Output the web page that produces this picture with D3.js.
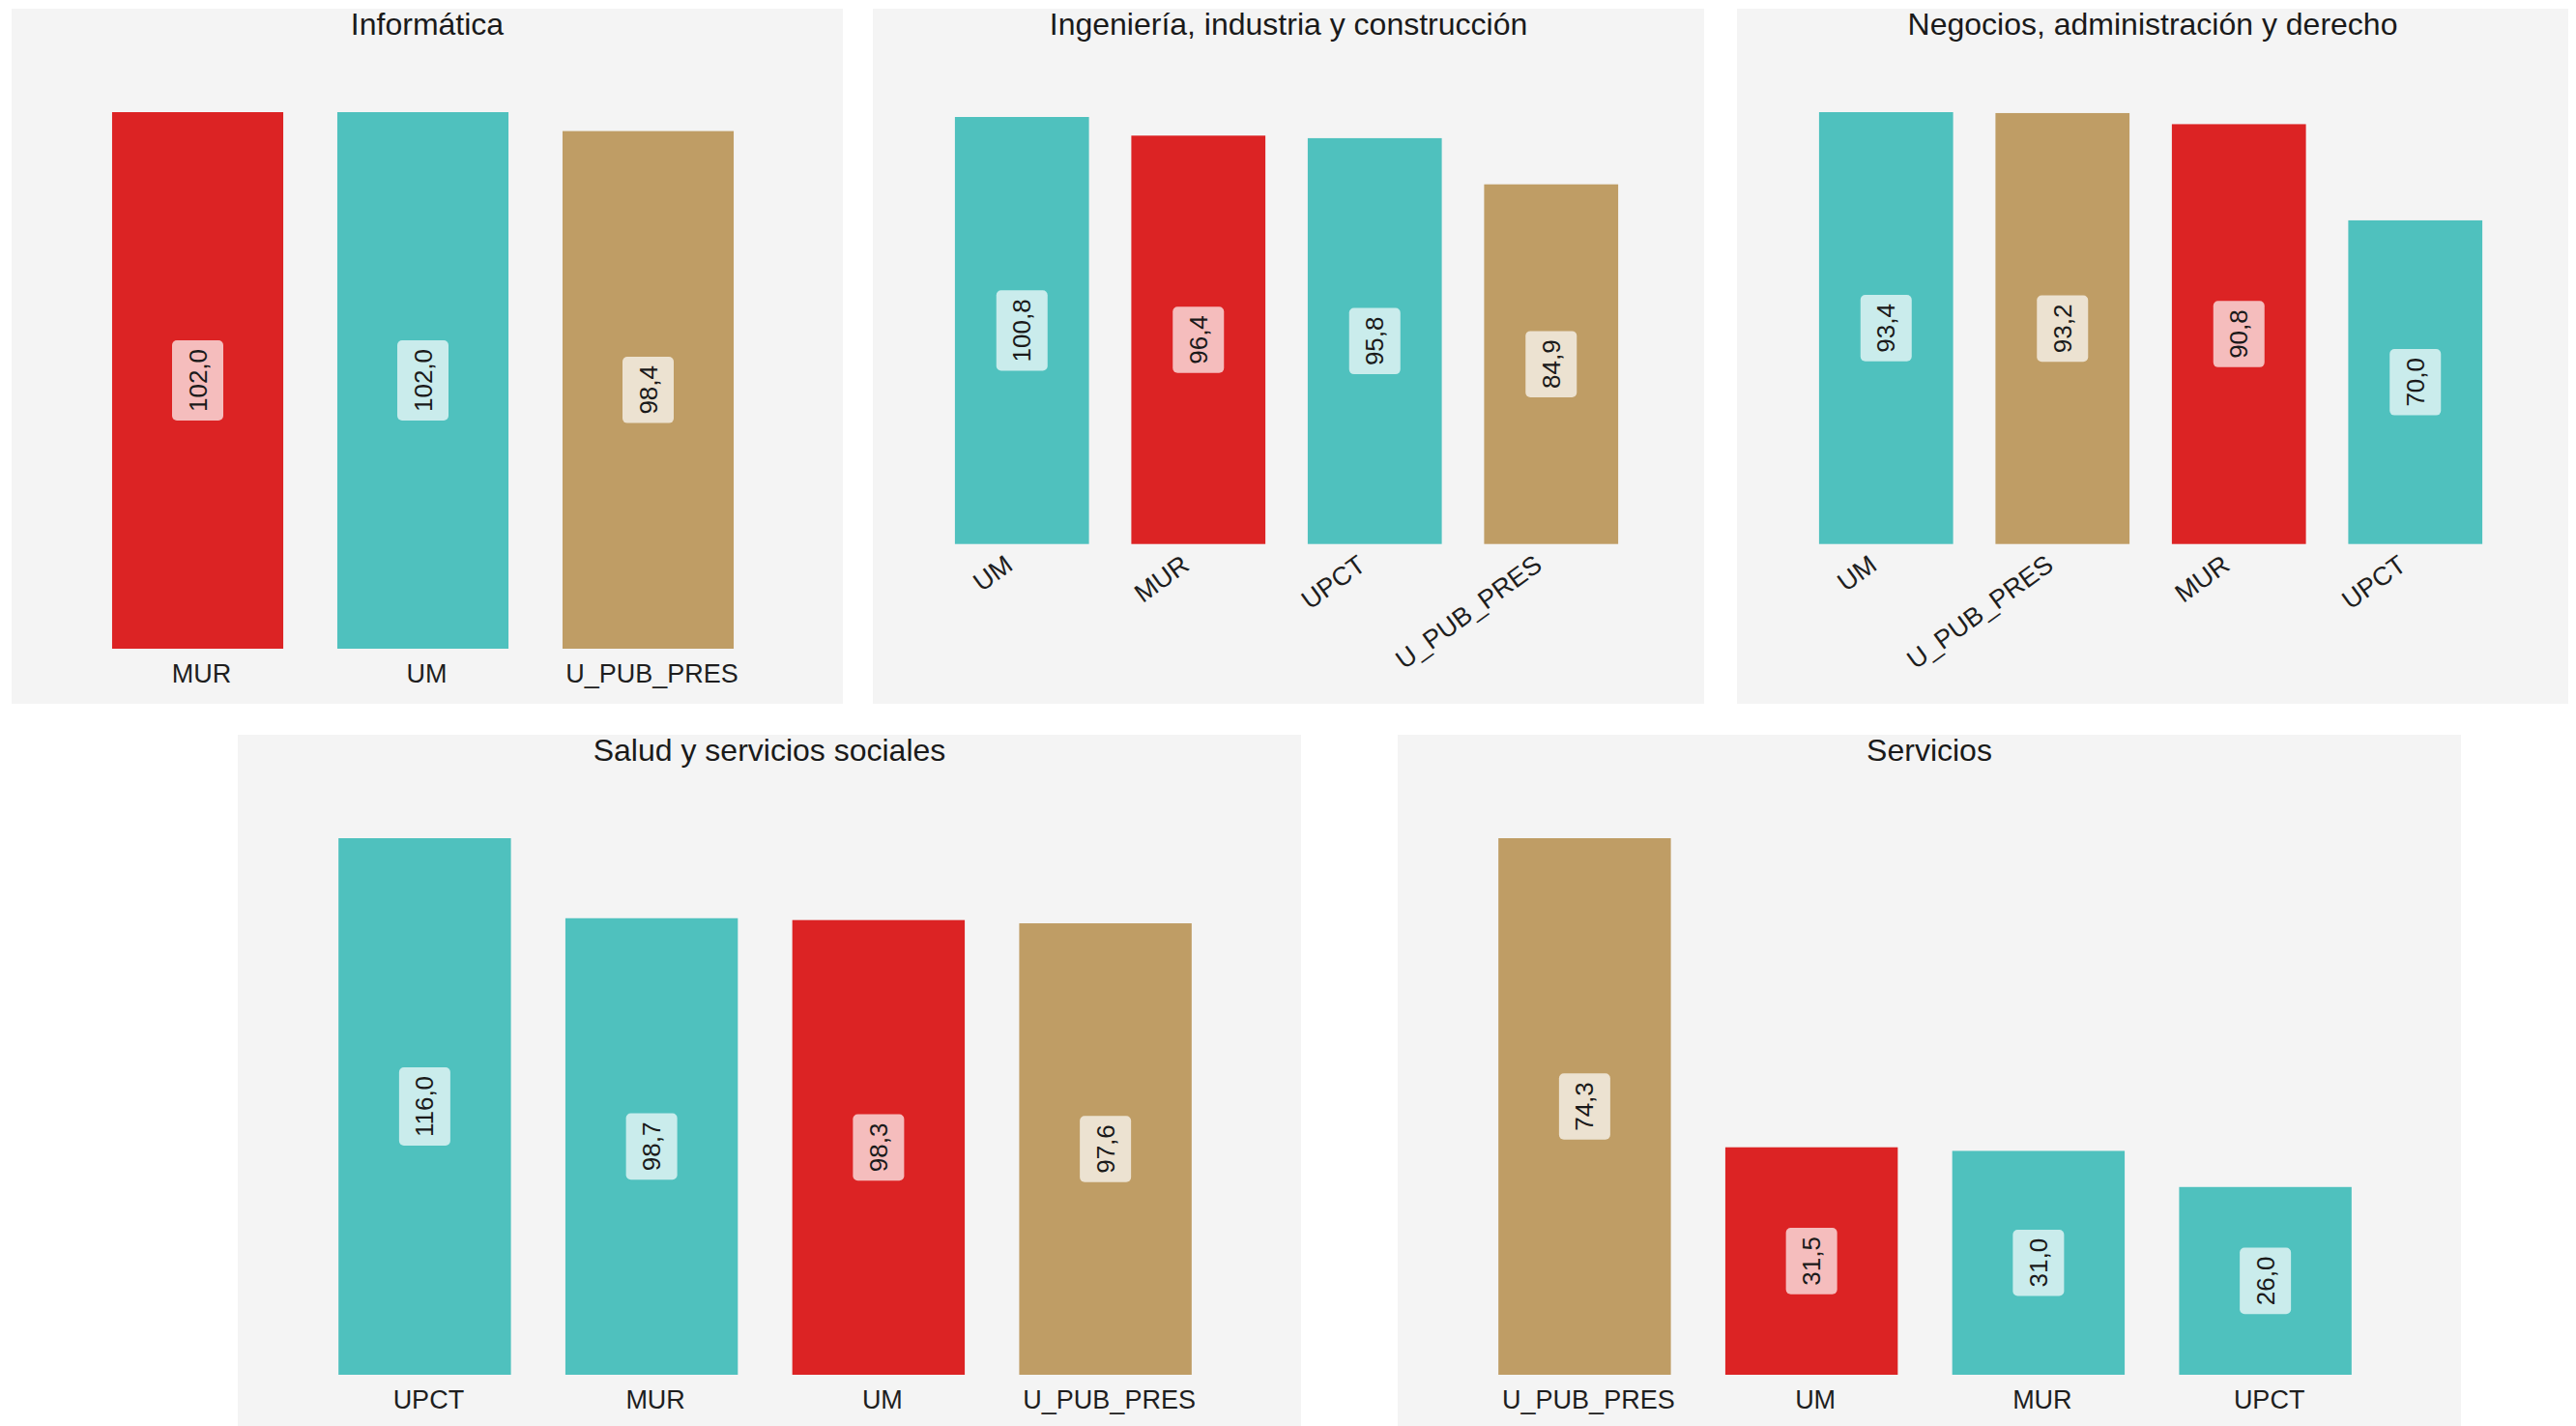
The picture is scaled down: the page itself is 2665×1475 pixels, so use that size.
<!DOCTYPE html>
<html><head><meta charset="utf-8">
<script src="https://cdn.jsdelivr.net/npm/d3@7"></script>
<style>html,body{margin:0;padding:0;background:#fff;overflow:hidden;} svg{display:block}</style>
</head><body>
<svg id="c" width="2665" height="1475"></svg>
<script>
// ---------- data ----------
const titles = ["Informática", "Ingeniería, industria y construcción", "Negocios, administración y derecho", "Salud y servicios sociales", "Servicios"];

const catsInformatica = ["MUR", "UM", "U_PUB_PRES"];
const valsInformatica = [102.0, 102.0, 98.4];

const catsIngenieria = ["UM", "MUR", "UPCT", "U_PUB_PRES"];
const valsIngenieria = [100.8, 96.4, 95.8, 84.9];

const catsNegocios = ["UM", "U_PUB_PRES", "MUR", "UPCT"];
const valsNegocios = [93.4, 93.2, 90.8, 70.0];

const catsSalud = ["UPCT", "MUR", "UM", "U_PUB_PRES"];
const valsSalud = [116.0, 98.7, 98.3, 97.6];

const catsServicios = ["U_PUB_PRES", "UM", "MUR", "UPCT"];
const valsServicios = [74.3, 31.5, 31.0, 26.0];

const highlighted = ["MUR", "MUR", "MUR", "UM", "UM"];

// ---------- styles / layout ----------
const COL_RED = "#dc2324", COL_TEAL = "#4fc1be", COL_TAN = "#bf9d65";
const PANEL_BG = "#f4f4f4";
const FONT = "'Liberation Sans', Arial, Helvetica, sans-serif";

const panelCats = [catsInformatica, catsIngenieria, catsNegocios, catsSalud, catsServicios];
const panelVals = [valsInformatica, valsIngenieria, valsNegocios, valsSalud, valsServicios];

const layout = [
  {x: 12,   y: 9,   w: 860,  h: 719, rot: false, top: 107},
  {x: 903,  y: 9,   w: 860,  h: 719, rot: true,  top: 112},
  {x: 1797, y: 9,   w: 860,  h: 719, rot: true,  top: 107},
  {x: 246,  y: 760, w: 1100, h: 719, rot: false, top: 107},
  {x: 1446, y: 760, w: 1100, h: 719, rot: false, top: 107}
];

const locale = d3.formatLocale({decimal: ",", thousands: ".", grouping: [3], currency: ["", "€"]});
const fmt = locale.format(".1f");

const svg = d3.select("#c");

function barColor(cat, hl) {
  if (cat === "U_PUB_PRES") return COL_TAN;
  if (cat === hl) return COL_RED;
  return COL_TEAL;
}
function lighten(c) {
  const r = d3.rgb(c);
  return d3.rgb(r.r + 0.7 * (255 - r.r), r.g + 0.7 * (255 - r.g), r.b + 0.7 * (255 - r.b)).formatHex();
}

layout.forEach((L, i) => {
  const cats = panelCats[i], vals = panelVals[i];
  const g = svg.append("g").attr("transform", `translate(${L.x},${L.y})`);
  g.append("rect").attr("width", L.w).attr("height", L.h).attr("fill", PANEL_BG);

  g.append("text").attr("x", L.w / 2).attr("y", 27)
    .attr("text-anchor", "middle").attr("font-family", FONT).attr("font-size", 32)
    .attr("fill", "#1a1a1a").text(titles[i]);

  const padL = L.rot ? 63 : 76, padR = L.rot ? 67 : 85;
  const top = L.top, bottom = L.rot ? 553.7 : 662;

  const x = d3.scaleBand().domain(cats).range([padL, L.w - padR]).paddingInner(0.24).paddingOuter(0.12);
  const y = d3.scaleLinear().domain([0, d3.max(vals)]).range([bottom, top]);

  const data = cats.map((c, k) => ({c, v: vals[k]}));

  g.selectAll("rect.bar").data(data).join("rect").attr("class", "bar")
    .attr("x", d => x(d.c)).attr("width", x.bandwidth())
    .attr("y", d => y(d.v)).attr("height", d => y(0) - y(d.v))
    .attr("fill", d => barColor(d.c, highlighted[i]));

  // value labels
  const lab = g.selectAll("g.lab").data(data).join("g").attr("class", "lab")
    .attr("transform", d => `translate(${x(d.c) + x.bandwidth() / 2},${(y(d.v) + y(0)) / 2}) rotate(-90)`);
  const rects = lab.append("rect").attr("fill", d => lighten(barColor(d.c, highlighted[i])))
    .attr("rx", 5).attr("ry", 5);
  const txt = lab.append("text").attr("text-anchor", "middle").attr("dominant-baseline", "central")
    .attr("font-family", FONT).attr("font-size", 26).attr("fill", "#1a1a1a")
    .text(d => fmt(d.v));
  txt.each(function (d) { d.len = this.getComputedTextLength(); });
  rects.attr("x", d => -(d.len + 18) / 2).attr("width", d => d.len + 18)
    .attr("y", -26.5).attr("height", 53);

  // axis labels
  const ax = g.append("g").attr("transform", `translate(0,${bottom})`);
  if (!L.rot) {
    ax.selectAll("text").data(cats).join("text")
      .attr("x", d => x(d) + x.bandwidth() / 2 + 4).attr("y", 34.5)
      .attr("text-anchor", "middle").attr("font-family", FONT).attr("font-size", 27)
      .attr("fill", "#1e1e1e").text(d => d);
  } else {
    ax.selectAll("text").data(cats).join("text")
      .attr("transform", d => `translate(${x(d) + x.bandwidth() / 2 - 13},18) rotate(-36)`)
      .attr("text-anchor", "end").attr("dominant-baseline", "central")
      .attr("font-family", FONT).attr("font-size", 27)
      .attr("fill", "#1e1e1e").text(d => d);
  }
});
</script>
</body></html>
